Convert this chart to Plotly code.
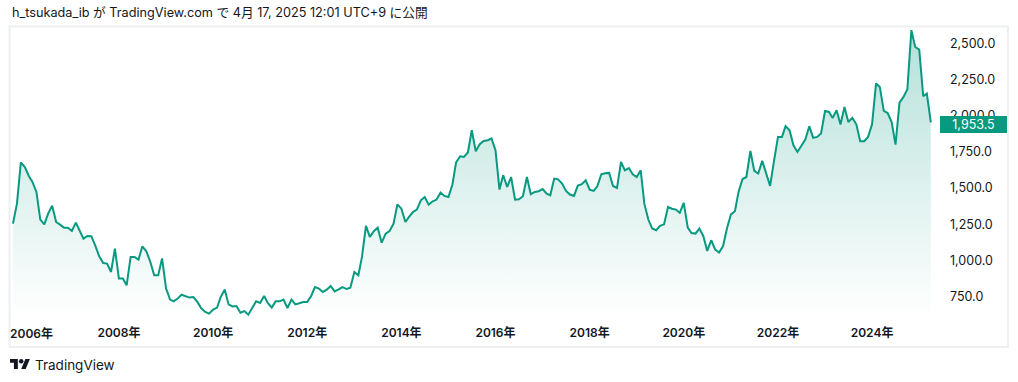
import pandas as pd
import plotly.graph_objects as go

# Monthly closing values, Oct 2005 .. Apr 2025
first_month = "2005-10-01"
values = [
    1254, 1392, 1676, 1645, 1583, 1542, 1473, 1282, 1249, 1323, 1378, 1265,
    1247, 1226, 1226, 1203, 1261, 1208, 1150, 1169, 1167, 1104, 1028, 982,
    978, 920, 1081, 874, 874, 828, 1024, 1024, 1005, 1097, 1063, 989,
    897, 897, 1014, 805, 729, 717, 736, 763, 754, 743, 747, 713,
    669, 644, 632, 660, 674, 747, 798, 696, 682, 685, 639, 650,
    625, 674, 717, 706, 754, 706, 674, 717, 717, 729, 671, 729,
    696, 704, 713, 713, 754, 816, 805, 782, 798, 823, 786, 800,
    816, 802, 811, 920, 897, 1024, 1238, 1162, 1201, 1226, 1122, 1185,
    1203, 1254, 1387, 1357, 1265, 1300, 1334, 1351, 1415, 1438, 1385, 1408,
    1420, 1468, 1445, 1438, 1524, 1676, 1719, 1714, 1745, 1899, 1754, 1802,
    1825, 1830, 1842, 1761, 1489, 1588, 1507, 1576, 1420, 1422, 1443, 1576,
    1457, 1473, 1478, 1493, 1461, 1450, 1565, 1560, 1531, 1480, 1455, 1445,
    1517, 1526, 1553, 1489, 1480, 1512, 1595, 1602, 1604, 1514, 1500, 1680,
    1622, 1638, 1595, 1576, 1622, 1392, 1282, 1220, 1208, 1238, 1249, 1369,
    1357, 1351, 1328, 1397, 1226, 1189, 1185, 1220, 1167, 1065, 1139, 1074,
    1054, 1099, 1220, 1318, 1339, 1473, 1562, 1576, 1756, 1618, 1600, 1687,
    1600, 1514, 1685, 1853, 1853, 1927, 1899, 1795, 1749, 1795, 1834, 1927,
    1846, 1853, 1876, 2032, 2025, 1984, 2037, 1938, 2060, 1956, 1984, 1940,
    1823, 1823, 1853, 1940, 2222, 2198, 2032, 2018, 1956, 1800, 2090, 2129,
    2182, 2590, 2474, 2456, 2134, 2152, 1953.5,
]
dates = pd.date_range(start=first_month, periods=len(values), freq="MS")

tick_years = [2006, 2008, 2010, 2012, 2014, 2016, 2018, 2020, 2022, 2024]
tick_labels = [f"{y}年" for y in tick_years]
y_ticks = [750, 1000, 1250, 1500, 1750, 2000, 2250, 2500]
last_value = values[-1]
last_label = f"{last_value:,.1f}"

header = "h_tsukada_ib が TradingView.com で 4月 17, 2025 12:01 UTC+9 に公開"
brand = "TradingView"

GREEN = "#089981"
TEXT = "#131722"
FONT = "Inter, 'Noto Sans CJK JP', sans-serif"

fig = go.Figure()
fig.add_trace(go.Scatter(
    x=dates, y=values, mode="lines",
    line=dict(color=GREEN, width=2),
    fill="tozeroy",
    fillgradient=dict(
        type="vertical", start=600, stop=2600,
        colorscale=[[0, "rgba(8,153,129,0.0)"], [1, "rgba(8,153,129,0.30)"]],
    ),
    hoverinfo="skip", showlegend=False,
))

W, H = 1018, 382
L, R, T, B = 10, 945, 27, 318  # plot area in pixels
pw, ph = R - L, B - T

def px_x(x):
    return (x - L) / pw

def px_y(y):
    return (B - y) / ph

tick_dates = [f"{y}-01-01" for y in tick_years]

fig.update_layout(
    width=W, height=H,
    margin=dict(l=L, r=W - R, t=T, b=H - B, pad=0, autoexpand=False),
    paper_bgcolor="white", plot_bgcolor="white",
    font=dict(family=FONT, color=TEXT),
    xaxis=dict(
        type="date", range=["2005-09-08", "2025-07-20"], automargin=False,
        # first label is nudged inside the pane (drawn as annotation below)
        tickvals=tick_dates[1:], ticktext=tick_labels[1:],
        showgrid=False, zeroline=False, showline=False, ticks="",
        ticklabelstandoff=6,
        tickfont=dict(size=12, color=TEXT, weight=600),
        fixedrange=True,
    ),
    yaxis=dict(
        side="right", range=[602, 2612], automargin=False,
        tickvals=y_ticks, tickformat=",.1f",
        showgrid=False, zeroline=False, showline=False, ticks="",
        ticklabelstandoff=4,
        tickfont=dict(size=12.5, color=TEXT),
        fixedrange=True,
    ),
    shapes=[
        dict(type="rect", xref="paper", yref="paper",
             x0=px_x(9.5), x1=px_x(1008), y0=px_y(347), y1=px_y(26.5),
             line=dict(color="#eeeff1", width=2), layer="below"),
        # TradingView logo
        dict(type="path", xref="paper", yref="paper", xsizemode="pixel", ysizemode="pixel",
             xanchor=px_x(10), yanchor=px_y(369),
             path="M7.84,0 L3.92,0 L3.92,6.16 L0,6.16 L0,10.08 L7.84,10.08 Z",
             fillcolor=TEXT, line=dict(width=0)),
        dict(type="path", xref="paper", yref="paper", xsizemode="pixel", ysizemode="pixel",
             xanchor=px_x(10), yanchor=px_y(369),
             path="M15.68,0 L11.2,0 L15.4,10.08 L19.88,10.08 Z",
             fillcolor=TEXT, line=dict(width=0)),
        dict(type="circle", xref="paper", yref="paper", xsizemode="pixel", ysizemode="pixel",
             xanchor=px_x(10), yanchor=px_y(369),
             x0=8.96, x1=13.44, y0=5.6, y1=10.08,
             fillcolor=TEXT, line=dict(width=0)),
    ],
    annotations=[
        dict(text=header, xref="paper", yref="paper", x=px_x(10), y=px_y(13),
             xanchor="left", yanchor="middle", showarrow=False,
             font=dict(size=12.7, color=TEXT)),
        dict(text=brand, xref="paper", yref="paper", x=px_x(33), y=px_y(365),
             xanchor="left", yanchor="middle", showarrow=False,
             font=dict(size=13.5, color=TEXT)),
        dict(text=tick_labels[0], xref="x", yref="paper", x=tick_dates[0], y=px_y(333),
             xanchor="center", yanchor="middle", xshift=7, showarrow=False,
             font=dict(size=12, color=TEXT, weight=600)),
        dict(text=last_label, xref="paper", yref="y", x=px_x(940), y=last_value,
             xanchor="left", yanchor="middle", yshift=-2.5, showarrow=False,
             bgcolor=GREEN, width=65, height=15, borderpad=1, borderwidth=0,
             font=dict(size=12.5, color="white")),
    ],
)

fig.write_html(
    "out.html",
    config={"displayModeBar": False},
    post_script="document.body.style.margin='0px';document.body.style.overflow='hidden';",
)
